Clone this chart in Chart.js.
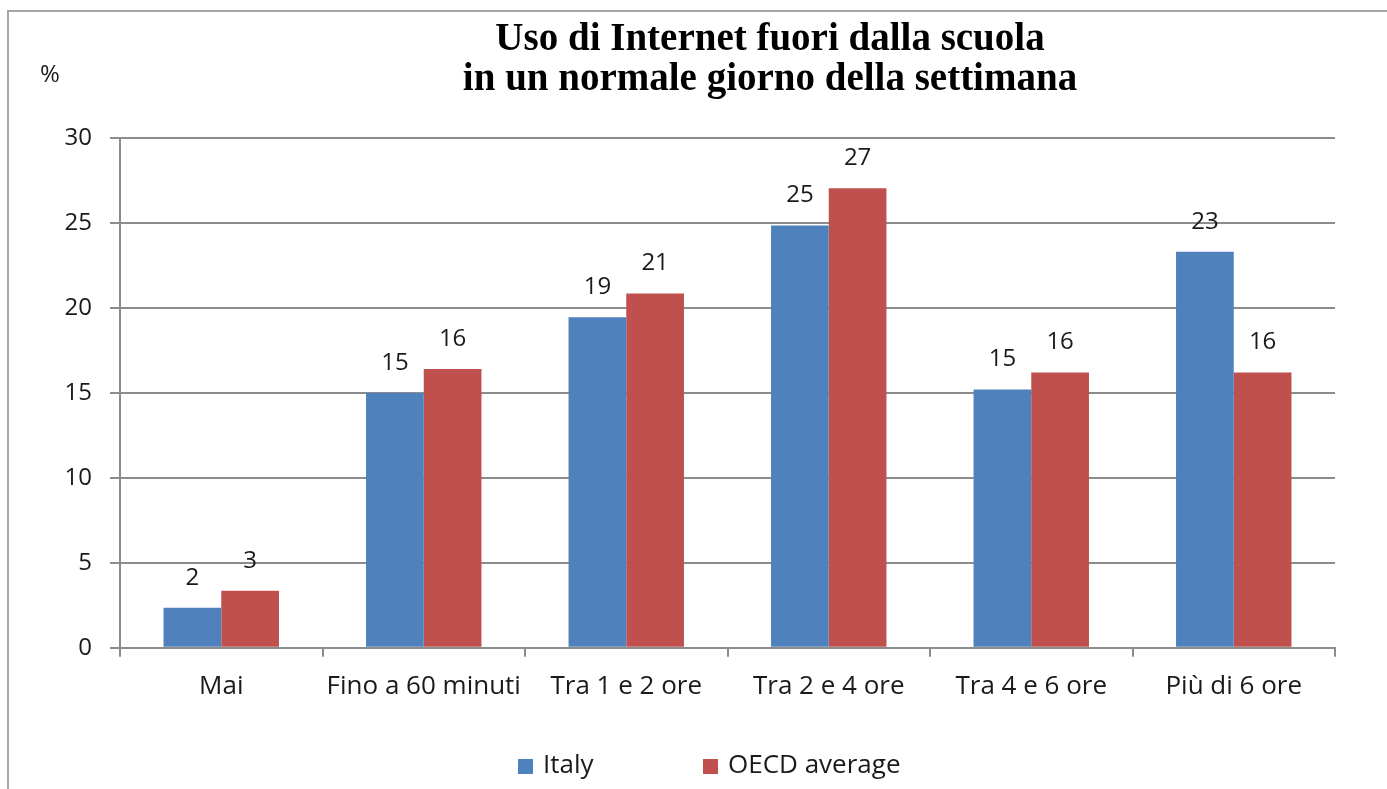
<!DOCTYPE html>
<html>
<head>
<meta charset="utf-8">
<script src="https://cdn.jsdelivr.net/npm/chart.js@4.4.0/dist/chart.umd.min.js"></script>
<style>
  html, body { margin: 0; padding: 0; background: #fff; overflow: hidden; }
  #frame {
    position: absolute; left: 7px; top: 10px; width: 1400px; height: 800px;
    border-top: 2px solid #a6a6a6; border-left: 2px solid #a6a6a6;
  }
  #wrap { position: absolute; left: 0; top: 0; width: 1387px; height: 789px; }
</style>
</head>
<body>
<div id="frame"></div>
<div id="wrap"><canvas id="graph1" width="1387" height="789"></canvas></div>
<script>
const categories = ['Mai', 'Fino a 60 minuti', 'Tra 1 e 2 ore', 'Tra 2 e 4 ore', 'Tra 4 e 6 ore', 'Più di 6 ore'];
const italyValues = [2.35, 15.0, 19.45, 24.85, 15.2, 23.3];
const oecdValues = [3.35, 16.4, 20.85, 27.05, 16.2, 16.2];
const titleLines = ['Uso di Internet fuori dalla scuola', 'in un normale giorno della settimana'];
const yTicks = [0, 5, 10, 15, 20, 25, 30];

const labelFont = '"Open Sans", "Noto Sans", sans-serif';
const textColor = '#1a1a1a';

// draws the value above each bar, like excel data labels
const valueLabels = {
    id: 'valueLabels',
    afterDatasetsDraw(chart) {
        const ctx = chart.ctx;
        ctx.save();
        ctx.font = '24px ' + labelFont;
        ctx.fillStyle = textColor;
        ctx.textAlign = 'center';
        ctx.textBaseline = 'middle';
        chart.data.datasets.forEach((ds, i) => {
            chart.getDatasetMeta(i).data.forEach((bar, j) => {
                ctx.fillText(Math.round(ds.data[j]), bar.x, bar.y - 30);
            });
        });
        ctx.restore();
    }
};

// title, "%" mark and the legend (spaced wide like the original)
const extraText = {
    id: 'extraText',
    afterDraw(chart) {
        const ctx = chart.ctx;
        ctx.save();
        ctx.fillStyle = '#000';
        ctx.textAlign = 'center';
        ctx.textBaseline = 'middle';
        ctx.font = 'bold 39px "Liberation Serif", serif';
        ctx.fillText(titleLines[0], 770, 40);
        ctx.fillText(titleLines[1], 770, 80);

        ctx.font = '24px ' + labelFont;
        ctx.fillStyle = textColor;
        ctx.fillText('%', 50, 75);

        const legendX = [518, 703];
        ctx.textAlign = 'left';
        ctx.font = '26px ' + labelFont;
        chart.data.datasets.forEach((ds, i) => {
            ctx.fillStyle = ds.backgroundColor;
            ctx.fillRect(legendX[i], 759, 15, 15);
            ctx.fillStyle = textColor;
            ctx.fillText(ds.label, legendX[i] + 25, 766);
        });
        ctx.restore();
    }
};

const data1 = {
    labels: categories,
    datasets: [{
        label: 'Italy',
        data: italyValues,
        backgroundColor: '#4F81BD',
        barPercentage: 1,
        categoryPercentage: 0.57
    }, {
        label: 'OECD average',
        data: oecdValues,
        backgroundColor: '#C0504D',
        barPercentage: 1,
        categoryPercentage: 0.57
    }]
};

const config = {
    type: 'bar',
    data: data1,
    plugins: [valueLabels, extraText],
    options: {
        responsive: false,
        animation: false,
        layout: { padding: { left: 0, right: 52, top: 138, bottom: 73 } },
        plugins: {
            legend: { display: false },
            tooltip: { enabled: false }
        },
        scales: {
            x: {
                grid: {
                    offset: true,
                    drawOnChartArea: false,
                    drawTicks: true,
                    tickLength: 9,
                    color: '#8c8c8c',
                    lineWidth: 2
                },
                border: { color: '#8c8c8c', width: 2 },
                ticks: {
                    font: { size: 26, family: labelFont },
                    color: textColor,
                    padding: 14
                }
            },
            y: {
                min: 0,
                max: 30,
                afterBuildTicks: (axis) => { axis.ticks = yTicks.map(v => ({ value: v })); },
                afterFit: (axis) => { axis.width = 120; },
                grid: {
                    color: '#8c8c8c',
                    lineWidth: 2,
                    tickLength: 10
                },
                border: { color: '#8c8c8c', width: 2 },
                ticks: {
                    font: { size: 24, family: labelFont },
                    color: textColor,
                    padding: 18
                }
            }
        }
    }
};

const ctx = document.getElementById('graph1').getContext('2d');
new Chart(ctx, config);
</script>
</body>
</html>
